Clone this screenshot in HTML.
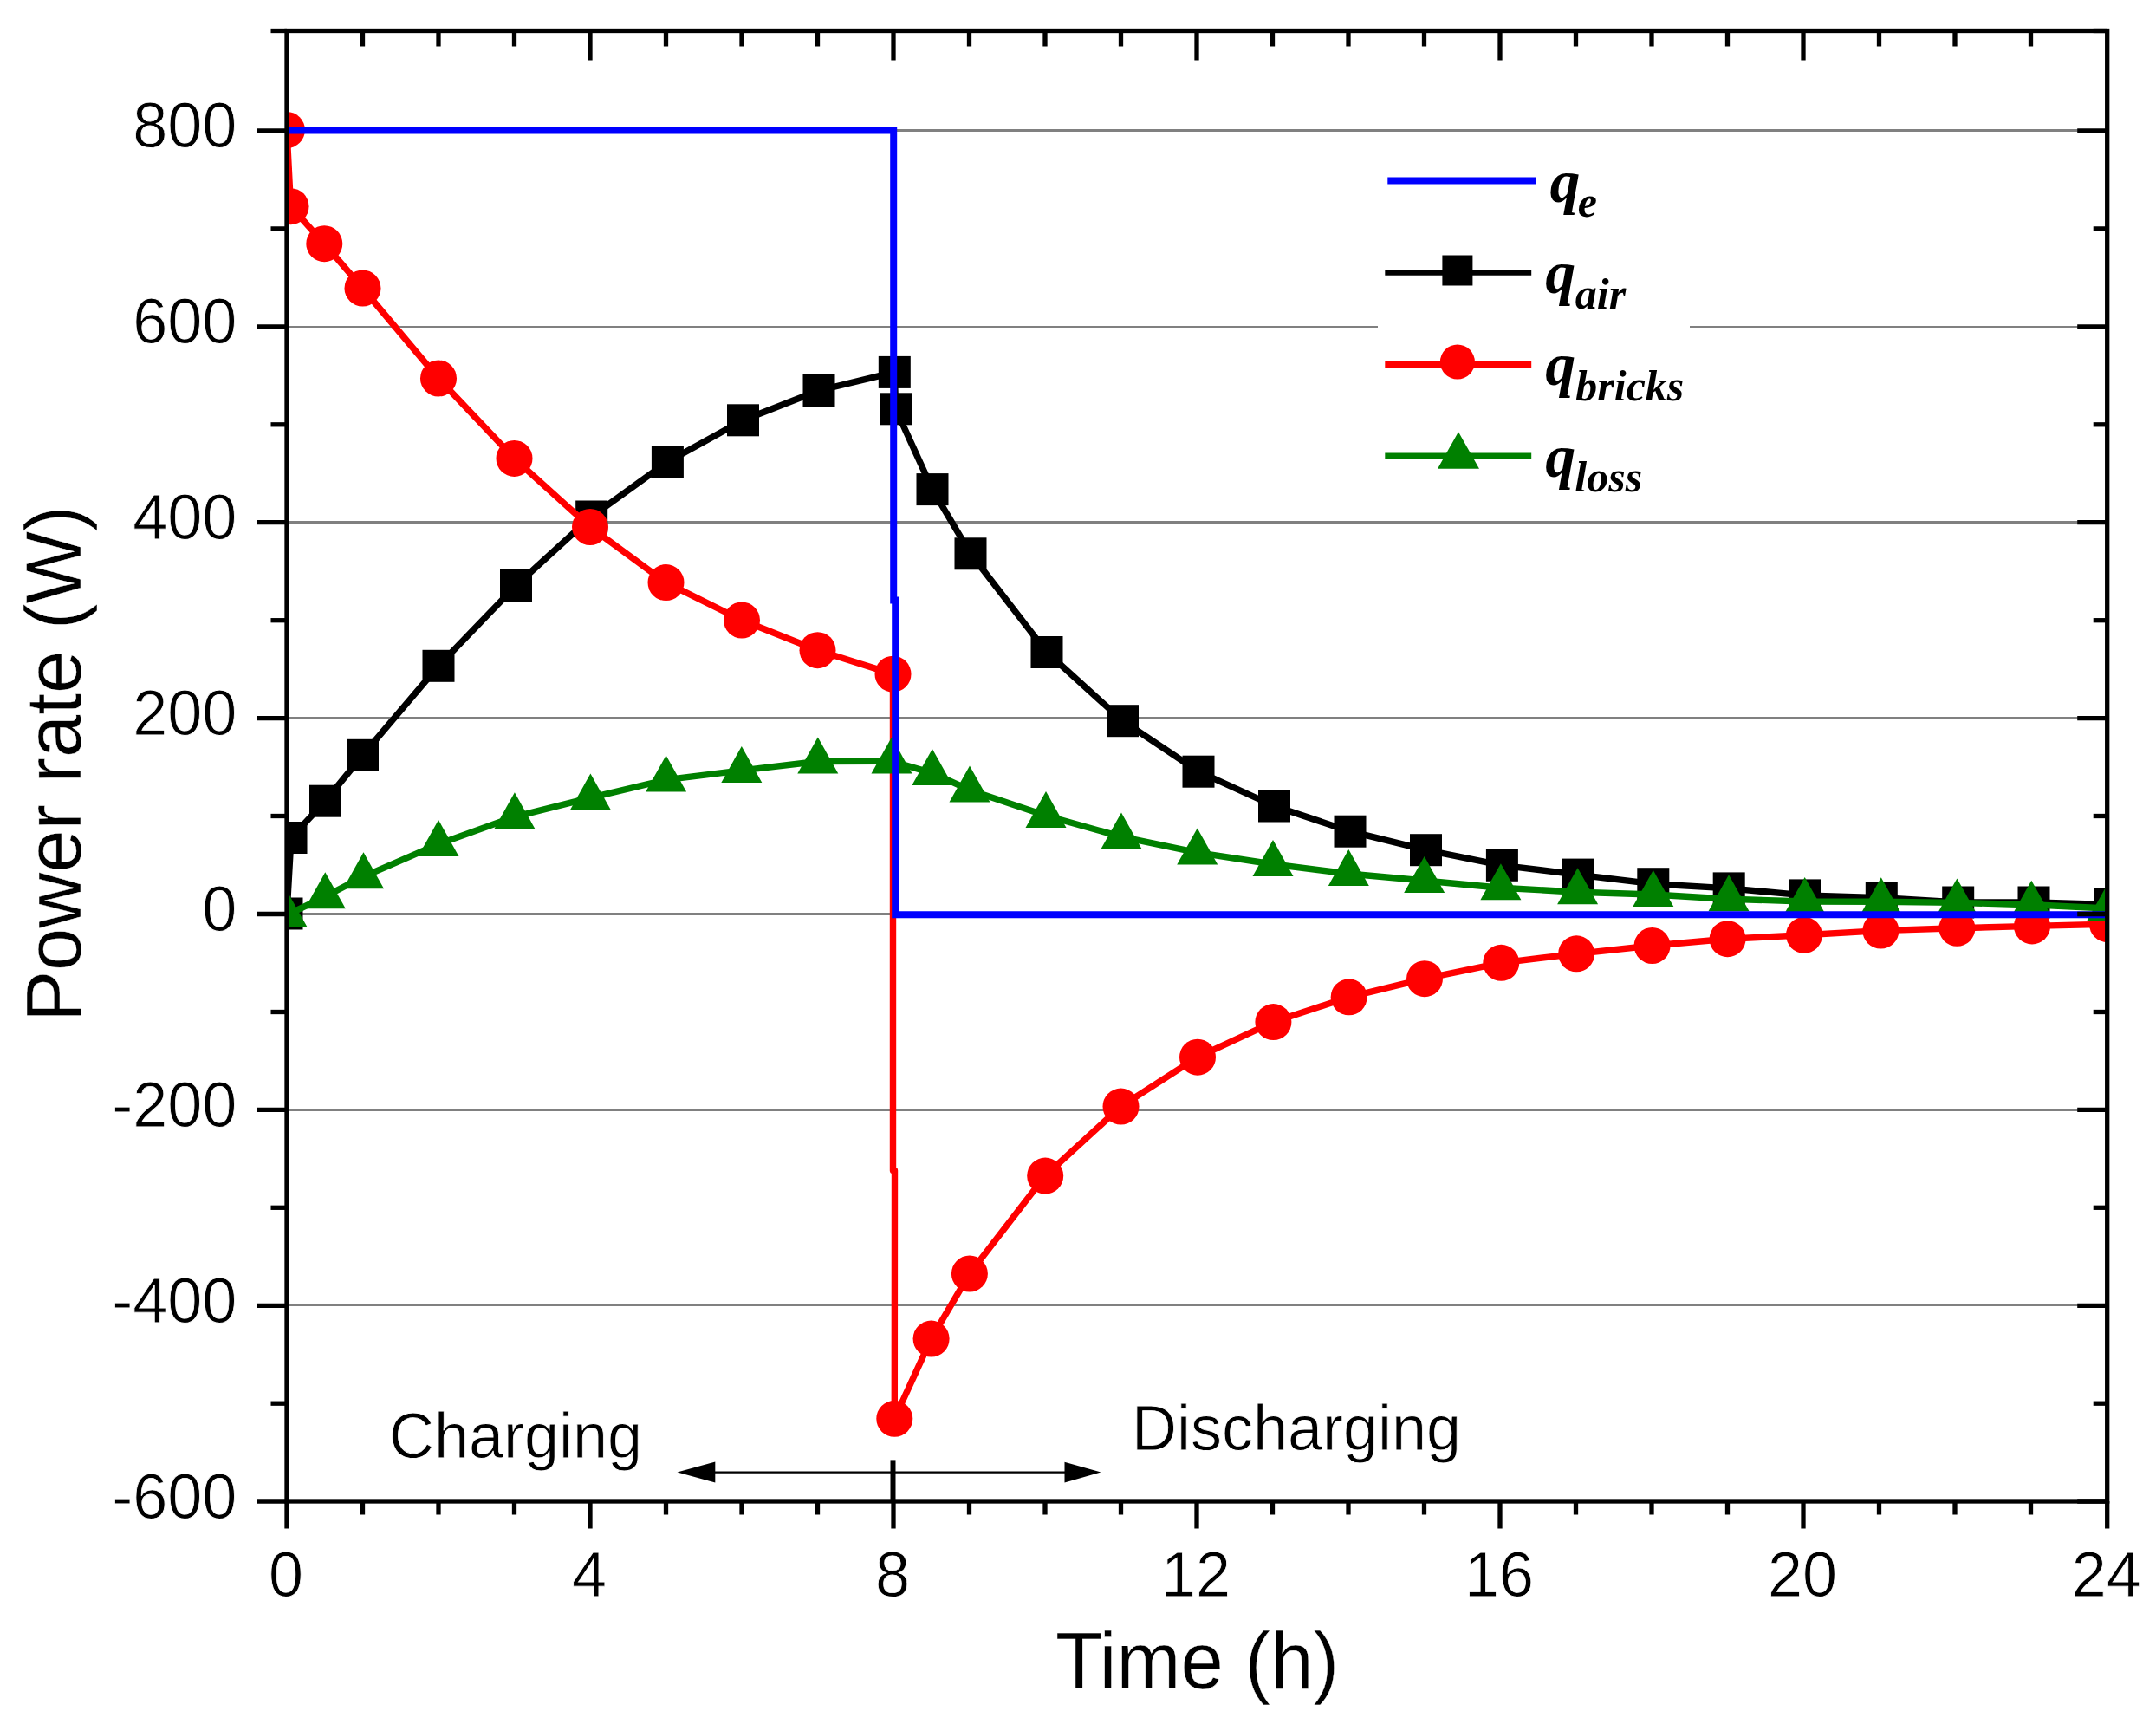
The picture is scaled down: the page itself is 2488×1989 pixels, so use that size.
<!DOCTYPE html><html><head><meta charset="utf-8"><title>Power rate</title><style>
html,body{margin:0;padding:0;background:#fff;}body{width:2488px;height:1989px;overflow:hidden;}
svg{display:block;}
.t{font-family:"Liberation Sans",Arial,sans-serif;fill:#000;}
.s72{stroke:#fff;stroke-width:0.8px;}.s88{stroke:#fff;stroke-width:0.4px;}
.q{font-family:"Liberation Serif","Times New Roman",serif;font-weight:bold;font-style:italic;fill:#000;}
</style></head><body>
<svg width="2488" height="1989" viewBox="0 0 2488 1989">
<rect x="0" y="0" width="2488" height="1989" fill="#fff"/>
<defs><clipPath id="pc"><rect x="331.0" y="35.5" width="2100.7" height="1696.5"/></clipPath></defs>
<g stroke="#808080" stroke-width="2.6" shape-rendering="crispEdges">
<line x1="331.0" y1="150.5" x2="2431.7" y2="150.5"/>
<line x1="331.0" y1="377.0" x2="2431.7" y2="377.0"/>
<line x1="331.0" y1="602.6" x2="2431.7" y2="602.6"/>
<line x1="331.0" y1="828.2" x2="2431.7" y2="828.2"/>
<line x1="331.0" y1="1054.5" x2="2431.7" y2="1054.5"/>
<line x1="331.0" y1="1280.6" x2="2431.7" y2="1280.6"/>
<line x1="331.0" y1="1505.9" x2="2431.7" y2="1505.9"/>
</g>
<rect x="1590" y="180" width="360" height="400" fill="#fff"/>
<g clip-path="url(#pc)">
<polyline points="331.0,1054.0 336.0,966.5 375.5,924.2 418.5,871.3 506.0,768.3 595.5,675.5 682.7,596.0 770.4,532.8 857.5,484.8 945.0,450.5 1032.3,429.4 1033.6,471.8 1076.0,564.6 1120.0,638.8 1208.0,752.5 1295.5,831.7 1383.0,890.2 1470.5,930.0 1558.0,959.2 1645.5,980.7 1733.4,998.3 1820.6,1009.1 1907.8,1019.7 1995.2,1024.9 2082.5,1032.9 2171.3,1035.6 2259.7,1041.0 2347.0,1041.0 2434.5,1043.4" fill="none" stroke="#000" stroke-width="7.4" stroke-linejoin="round"/>
<g><rect x="312.5" y="1035.5" width="37" height="37" fill="#000"/><rect x="317.5" y="948.0" width="37" height="37" fill="#000"/><rect x="357.0" y="905.7" width="37" height="37" fill="#000"/><rect x="400.0" y="852.8" width="37" height="37" fill="#000"/><rect x="487.5" y="749.8" width="37" height="37" fill="#000"/><rect x="577.0" y="657.0" width="37" height="37" fill="#000"/><rect x="664.2" y="577.5" width="37" height="37" fill="#000"/><rect x="751.9" y="514.3" width="37" height="37" fill="#000"/><rect x="839.0" y="466.3" width="37" height="37" fill="#000"/><rect x="926.5" y="432.0" width="37" height="37" fill="#000"/><rect x="1013.8" y="410.9" width="37" height="37" fill="#000"/><rect x="1015.1" y="453.3" width="37" height="37" fill="#000"/><rect x="1057.5" y="546.1" width="37" height="37" fill="#000"/><rect x="1101.5" y="620.3" width="37" height="37" fill="#000"/><rect x="1189.5" y="734.0" width="37" height="37" fill="#000"/><rect x="1277.0" y="813.2" width="37" height="37" fill="#000"/><rect x="1364.5" y="871.7" width="37" height="37" fill="#000"/><rect x="1452.0" y="911.5" width="37" height="37" fill="#000"/><rect x="1539.5" y="940.7" width="37" height="37" fill="#000"/><rect x="1627.0" y="962.2" width="37" height="37" fill="#000"/><rect x="1714.9" y="979.8" width="37" height="37" fill="#000"/><rect x="1802.1" y="990.6" width="37" height="37" fill="#000"/><rect x="1889.3" y="1001.2" width="37" height="37" fill="#000"/><rect x="1976.7" y="1006.4" width="37" height="37" fill="#000"/><rect x="2064.0" y="1014.4" width="37" height="37" fill="#000"/><rect x="2152.8" y="1017.1" width="37" height="37" fill="#000"/><rect x="2241.2" y="1022.5" width="37" height="37" fill="#000"/><rect x="2328.5" y="1022.5" width="37" height="37" fill="#000"/><rect x="2416.0" y="1024.9" width="37" height="37" fill="#000"/></g>
<polyline points="331.0,150.0 335.5,238.2 374.3,281.2 418.5,332.5 506.0,436.5 593.5,528.9 681.0,608.0 768.5,672.1 856.0,715.5 943.5,750.2 1030.5,777.7 1030.5,1350.5 1032.5,1350.5 1032.3,1636.8 1074.6,1544.6 1118.9,1469.5 1206.2,1356.6 1293.5,1276.6 1382.0,1219.7 1469.4,1179.1 1556.7,1150.3 1644.0,1129.2 1732.3,1110.8 1819.2,1100.3 1906.6,1091.0 1993.6,1083.2 2082.0,1078.8 2170.4,1073.6 2258.4,1070.8 2345.0,1068.4 2432.0,1066.2" fill="none" stroke="#f00" stroke-width="7.4" stroke-linejoin="round"/>
<g><circle cx="331.0" cy="150.0" r="21" fill="#f00"/><circle cx="335.5" cy="238.2" r="21" fill="#f00"/><circle cx="374.3" cy="281.2" r="21" fill="#f00"/><circle cx="418.5" cy="332.5" r="21" fill="#f00"/><circle cx="506.0" cy="436.5" r="21" fill="#f00"/><circle cx="593.5" cy="528.9" r="21" fill="#f00"/><circle cx="681.0" cy="608.0" r="21" fill="#f00"/><circle cx="768.5" cy="672.1" r="21" fill="#f00"/><circle cx="856.0" cy="715.5" r="21" fill="#f00"/><circle cx="943.5" cy="750.2" r="21" fill="#f00"/><circle cx="1030.5" cy="777.7" r="21" fill="#f00"/><circle cx="1032.3" cy="1636.8" r="21" fill="#f00"/><circle cx="1074.6" cy="1544.6" r="21" fill="#f00"/><circle cx="1118.9" cy="1469.5" r="21" fill="#f00"/><circle cx="1206.2" cy="1356.6" r="21" fill="#f00"/><circle cx="1293.5" cy="1276.6" r="21" fill="#f00"/><circle cx="1382.0" cy="1219.7" r="21" fill="#f00"/><circle cx="1469.4" cy="1179.1" r="21" fill="#f00"/><circle cx="1556.7" cy="1150.3" r="21" fill="#f00"/><circle cx="1644.0" cy="1129.2" r="21" fill="#f00"/><circle cx="1732.3" cy="1110.8" r="21" fill="#f00"/><circle cx="1819.2" cy="1100.3" r="21" fill="#f00"/><circle cx="1906.6" cy="1091.0" r="21" fill="#f00"/><circle cx="1993.6" cy="1083.2" r="21" fill="#f00"/><circle cx="2082.0" cy="1078.8" r="21" fill="#f00"/><circle cx="2170.4" cy="1073.6" r="21" fill="#f00"/><circle cx="2258.4" cy="1070.8" r="21" fill="#f00"/><circle cx="2345.0" cy="1068.4" r="21" fill="#f00"/><circle cx="2432.0" cy="1066.2" r="21" fill="#f00"/></g>
<polyline points="331.0,1055.6 375.3,1034.3 419.5,1011.3 506.0,973.9 593.9,942.3 681.4,920.4 768.6,899.6 855.8,888.9 943.8,878.5 1029.0,878.4 1075.9,891.9 1119.0,911.4 1207.0,941.0 1294.0,965.4 1381.7,983.6 1469.0,997.0 1556.3,1008.0 1643.7,1016.0 1731.9,1024.2 1820.6,1029.2 1907.8,1032.0 1995.0,1037.2 2082.7,1040.0 2170.8,1040.3 2258.4,1041.4 2344.3,1043.8 2432.0,1048.0" fill="none" stroke="#008000" stroke-width="7.4" stroke-linejoin="round"/>
<g><polygon points="331.0,1027.6 307.5,1069.6 354.5,1069.6" fill="#008000"/><polygon points="375.3,1006.3 351.8,1048.3 398.8,1048.3" fill="#008000"/><polygon points="419.5,983.3 396.0,1025.3 443.0,1025.3" fill="#008000"/><polygon points="506.0,945.9 482.5,987.9 529.5,987.9" fill="#008000"/><polygon points="593.9,914.3 570.4,956.3 617.4,956.3" fill="#008000"/><polygon points="681.4,892.4 657.9,934.4 704.9,934.4" fill="#008000"/><polygon points="768.6,871.6 745.1,913.6 792.1,913.6" fill="#008000"/><polygon points="855.8,860.9 832.3,902.9 879.3,902.9" fill="#008000"/><polygon points="943.8,850.5 920.3,892.5 967.3,892.5" fill="#008000"/><polygon points="1029.0,850.4 1005.5,892.4 1052.5,892.4" fill="#008000"/><polygon points="1075.9,863.9 1052.4,905.9 1099.4,905.9" fill="#008000"/><polygon points="1119.0,883.4 1095.5,925.4 1142.5,925.4" fill="#008000"/><polygon points="1207.0,913.0 1183.5,955.0 1230.5,955.0" fill="#008000"/><polygon points="1294.0,937.4 1270.5,979.4 1317.5,979.4" fill="#008000"/><polygon points="1381.7,955.6 1358.2,997.6 1405.2,997.6" fill="#008000"/><polygon points="1469.0,969.0 1445.5,1011.0 1492.5,1011.0" fill="#008000"/><polygon points="1556.3,980.0 1532.8,1022.0 1579.8,1022.0" fill="#008000"/><polygon points="1643.7,988.0 1620.2,1030.0 1667.2,1030.0" fill="#008000"/><polygon points="1731.9,996.2 1708.4,1038.2 1755.4,1038.2" fill="#008000"/><polygon points="1820.6,1001.2 1797.1,1043.2 1844.1,1043.2" fill="#008000"/><polygon points="1907.8,1004.0 1884.3,1046.0 1931.3,1046.0" fill="#008000"/><polygon points="1995.0,1009.2 1971.5,1051.2 2018.5,1051.2" fill="#008000"/><polygon points="2082.7,1012.0 2059.2,1054.0 2106.2,1054.0" fill="#008000"/><polygon points="2170.8,1012.3 2147.3,1054.3 2194.3,1054.3" fill="#008000"/><polygon points="2258.4,1013.4 2234.9,1055.4 2281.9,1055.4" fill="#008000"/><polygon points="2344.3,1015.8 2320.8,1057.8 2367.8,1057.8" fill="#008000"/><polygon points="2432.0,1020.0 2408.5,1062.0 2455.5,1062.0" fill="#008000"/></g>
<polyline points="331.0,150.4 1031.2,150.4 1031.2,692.4 1033.2,692.4 1033.2,1055.3 2431.7,1055.3" fill="none" stroke="#00f" stroke-width="8"/>
</g>
<g stroke="#000" stroke-width="5.3" fill="none">
<rect x="331.0" y="35.5" width="2100.7" height="1696.5"/>
<line x1="296.5" y1="1732.0" x2="331.0" y2="1732.0"/>
<line x1="2431.7" y1="1732.0" x2="2397.2" y2="1732.0"/>
<line x1="312.5" y1="1619.2" x2="331.0" y2="1619.2"/>
<line x1="2431.7" y1="1619.2" x2="2415.7" y2="1619.2"/>
<line x1="296.5" y1="1506.3" x2="331.0" y2="1506.3"/>
<line x1="2431.7" y1="1506.3" x2="2397.2" y2="1506.3"/>
<line x1="312.5" y1="1393.3" x2="331.0" y2="1393.3"/>
<line x1="2431.7" y1="1393.3" x2="2415.7" y2="1393.3"/>
<line x1="296.5" y1="1280.4" x2="331.0" y2="1280.4"/>
<line x1="2431.7" y1="1280.4" x2="2397.2" y2="1280.4"/>
<line x1="312.5" y1="1167.5" x2="331.0" y2="1167.5"/>
<line x1="2431.7" y1="1167.5" x2="2415.7" y2="1167.5"/>
<line x1="296.5" y1="1054.5" x2="331.0" y2="1054.5"/>
<line x1="2431.7" y1="1054.5" x2="2397.2" y2="1054.5"/>
<line x1="312.5" y1="941.5" x2="331.0" y2="941.5"/>
<line x1="2431.7" y1="941.5" x2="2415.7" y2="941.5"/>
<line x1="296.5" y1="828.6" x2="331.0" y2="828.6"/>
<line x1="2431.7" y1="828.6" x2="2397.2" y2="828.6"/>
<line x1="312.5" y1="715.7" x2="331.0" y2="715.7"/>
<line x1="2431.7" y1="715.7" x2="2415.7" y2="715.7"/>
<line x1="296.5" y1="602.7" x2="331.0" y2="602.7"/>
<line x1="2431.7" y1="602.7" x2="2397.2" y2="602.7"/>
<line x1="312.5" y1="489.8" x2="331.0" y2="489.8"/>
<line x1="2431.7" y1="489.8" x2="2415.7" y2="489.8"/>
<line x1="296.5" y1="376.8" x2="331.0" y2="376.8"/>
<line x1="2431.7" y1="376.8" x2="2397.2" y2="376.8"/>
<line x1="312.5" y1="263.9" x2="331.0" y2="263.9"/>
<line x1="2431.7" y1="263.9" x2="2415.7" y2="263.9"/>
<line x1="296.5" y1="150.9" x2="331.0" y2="150.9"/>
<line x1="2431.7" y1="150.9" x2="2397.2" y2="150.9"/>
<line x1="312.5" y1="35.5" x2="331.0" y2="35.5"/>
<line x1="2431.7" y1="35.5" x2="2415.7" y2="35.5"/>
<line x1="331.0" y1="1732.0" x2="331.0" y2="1763.5"/>
<line x1="418.5" y1="1732.0" x2="418.5" y2="1747.5"/>
<line x1="418.5" y1="35.5" x2="418.5" y2="53.5"/>
<line x1="506.0" y1="1732.0" x2="506.0" y2="1747.5"/>
<line x1="506.0" y1="35.5" x2="506.0" y2="53.5"/>
<line x1="593.5" y1="1732.0" x2="593.5" y2="1747.5"/>
<line x1="593.5" y1="35.5" x2="593.5" y2="53.5"/>
<line x1="681.0" y1="1732.0" x2="681.0" y2="1763.5"/>
<line x1="681.0" y1="35.5" x2="681.0" y2="69.5"/>
<line x1="768.5" y1="1732.0" x2="768.5" y2="1747.5"/>
<line x1="768.5" y1="35.5" x2="768.5" y2="53.5"/>
<line x1="856.0" y1="1732.0" x2="856.0" y2="1747.5"/>
<line x1="856.0" y1="35.5" x2="856.0" y2="53.5"/>
<line x1="943.5" y1="1732.0" x2="943.5" y2="1747.5"/>
<line x1="943.5" y1="35.5" x2="943.5" y2="53.5"/>
<line x1="1031.0" y1="1732.0" x2="1031.0" y2="1763.5"/>
<line x1="1031.0" y1="35.5" x2="1031.0" y2="69.5"/>
<line x1="1118.5" y1="1732.0" x2="1118.5" y2="1747.5"/>
<line x1="1118.5" y1="35.5" x2="1118.5" y2="53.5"/>
<line x1="1206.0" y1="1732.0" x2="1206.0" y2="1747.5"/>
<line x1="1206.0" y1="35.5" x2="1206.0" y2="53.5"/>
<line x1="1293.5" y1="1732.0" x2="1293.5" y2="1747.5"/>
<line x1="1293.5" y1="35.5" x2="1293.5" y2="53.5"/>
<line x1="1381.0" y1="1732.0" x2="1381.0" y2="1763.5"/>
<line x1="1381.0" y1="35.5" x2="1381.0" y2="69.5"/>
<line x1="1468.5" y1="1732.0" x2="1468.5" y2="1747.5"/>
<line x1="1468.5" y1="35.5" x2="1468.5" y2="53.5"/>
<line x1="1556.0" y1="1732.0" x2="1556.0" y2="1747.5"/>
<line x1="1556.0" y1="35.5" x2="1556.0" y2="53.5"/>
<line x1="1643.5" y1="1732.0" x2="1643.5" y2="1747.5"/>
<line x1="1643.5" y1="35.5" x2="1643.5" y2="53.5"/>
<line x1="1731.0" y1="1732.0" x2="1731.0" y2="1763.5"/>
<line x1="1731.0" y1="35.5" x2="1731.0" y2="69.5"/>
<line x1="1818.5" y1="1732.0" x2="1818.5" y2="1747.5"/>
<line x1="1818.5" y1="35.5" x2="1818.5" y2="53.5"/>
<line x1="1906.0" y1="1732.0" x2="1906.0" y2="1747.5"/>
<line x1="1906.0" y1="35.5" x2="1906.0" y2="53.5"/>
<line x1="1993.5" y1="1732.0" x2="1993.5" y2="1747.5"/>
<line x1="1993.5" y1="35.5" x2="1993.5" y2="53.5"/>
<line x1="2081.0" y1="1732.0" x2="2081.0" y2="1763.5"/>
<line x1="2081.0" y1="35.5" x2="2081.0" y2="69.5"/>
<line x1="2168.5" y1="1732.0" x2="2168.5" y2="1747.5"/>
<line x1="2168.5" y1="35.5" x2="2168.5" y2="53.5"/>
<line x1="2256.0" y1="1732.0" x2="2256.0" y2="1747.5"/>
<line x1="2256.0" y1="35.5" x2="2256.0" y2="53.5"/>
<line x1="2343.5" y1="1732.0" x2="2343.5" y2="1747.5"/>
<line x1="2343.5" y1="35.5" x2="2343.5" y2="53.5"/>
<line x1="2431.7" y1="1732.0" x2="2431.7" y2="1763.5"/>
</g>
<g class="t s72" font-size="72">
<text transform="translate(273.3,1751.5) scale(1,1.035)" text-anchor="end">-600</text>
<text transform="translate(273.3,1525.8) scale(1,1.035)" text-anchor="end">-400</text>
<text transform="translate(273.3,1299.9) scale(1,1.035)" text-anchor="end">-200</text>
<text transform="translate(273.3,1074.0) scale(1,1.035)" text-anchor="end">0</text>
<text transform="translate(273.3,848.1) scale(1,1.035)" text-anchor="end">200</text>
<text transform="translate(273.3,622.2) scale(1,1.035)" text-anchor="end">400</text>
<text transform="translate(273.3,396.3) scale(1,1.035)" text-anchor="end">600</text>
<text transform="translate(273.3,170.4) scale(1,1.035)" text-anchor="end">800</text>
<text transform="translate(330.0,1842) scale(1,1.035)" text-anchor="middle">0</text>
<text transform="translate(680.0,1842) scale(1,1.035)" text-anchor="middle">4</text>
<text transform="translate(1030.0,1842) scale(1,1.035)" text-anchor="middle">8</text>
<text transform="translate(1380.0,1842) scale(1,1.035)" text-anchor="middle">12</text>
<text transform="translate(1730.0,1842) scale(1,1.035)" text-anchor="middle">16</text>
<text transform="translate(2080.0,1842) scale(1,1.035)" text-anchor="middle">20</text>
<text transform="translate(2430.7,1842) scale(1,1.035)" text-anchor="middle">24</text>
</g>
<text class="t s88" font-size="88.8" transform="translate(1381.5,1948.3) scale(1,1.035)" text-anchor="middle">Time (h)</text>
<text class="t s88" font-size="88.6" transform="translate(93.4,881.3) rotate(-90) scale(1,1.035)" text-anchor="middle">Power rate (W)</text>
<text class="t s72" font-size="72" transform="translate(449,1681.8) scale(1,1.035)">Charging</text>
<text class="t s72" font-size="72" transform="translate(1306,1672.5) scale(1,1.035)">Discharging</text>
<line x1="800" y1="1698.6" x2="1250" y2="1698.6" stroke="#000" stroke-width="2.4"/>
<polygon points="781.5,1698.6 825.3,1686.6 825.3,1710.4" fill="#000"/>
<polygon points="1270.4,1698.6 1228.5,1686.7 1228.5,1710.4" fill="#000"/>
<line x1="1030.5" y1="1684.4" x2="1030.5" y2="1732" stroke="#000" stroke-width="6"/>
<line x1="1601.3" y1="208.5" x2="1772.4" y2="208.5" stroke="#00f" stroke-width="8"/>
<line x1="1598.3" y1="314.4" x2="1767.2" y2="314.4" stroke="#000" stroke-width="6.8"/>
<rect x="1664.4" y="294.5" width="35" height="35" fill="#000"/>
<line x1="1598.3" y1="420.3" x2="1767.2" y2="420.3" stroke="#f00" stroke-width="7.5"/>
<circle cx="1681.9" cy="417.5" r="20" fill="#f00"/>
<line x1="1598.3" y1="526.3" x2="1767.2" y2="526.3" stroke="#008000" stroke-width="7.5"/>
<polygon points="1683,498.2 1659,540.8 1707,540.8" fill="#008000"/>
<text class="q" font-size="70" x="1788.4" y="233">q</text><text class="q" font-size="50" x="1820.8" y="250">e</text>
<text class="q" font-size="70" x="1783.3" y="338.2">q</text><text class="q" font-size="50" x="1817.8" y="356">air</text>
<text class="q" font-size="70" x="1783.3" y="444">q</text><text class="q" font-size="50" x="1818.3" y="462.4">bricks</text>
<text class="q" font-size="70" x="1783.3" y="550.3">q</text><text class="q" font-size="50" x="1817.3" y="566.5">loss</text>
</svg></body></html>
